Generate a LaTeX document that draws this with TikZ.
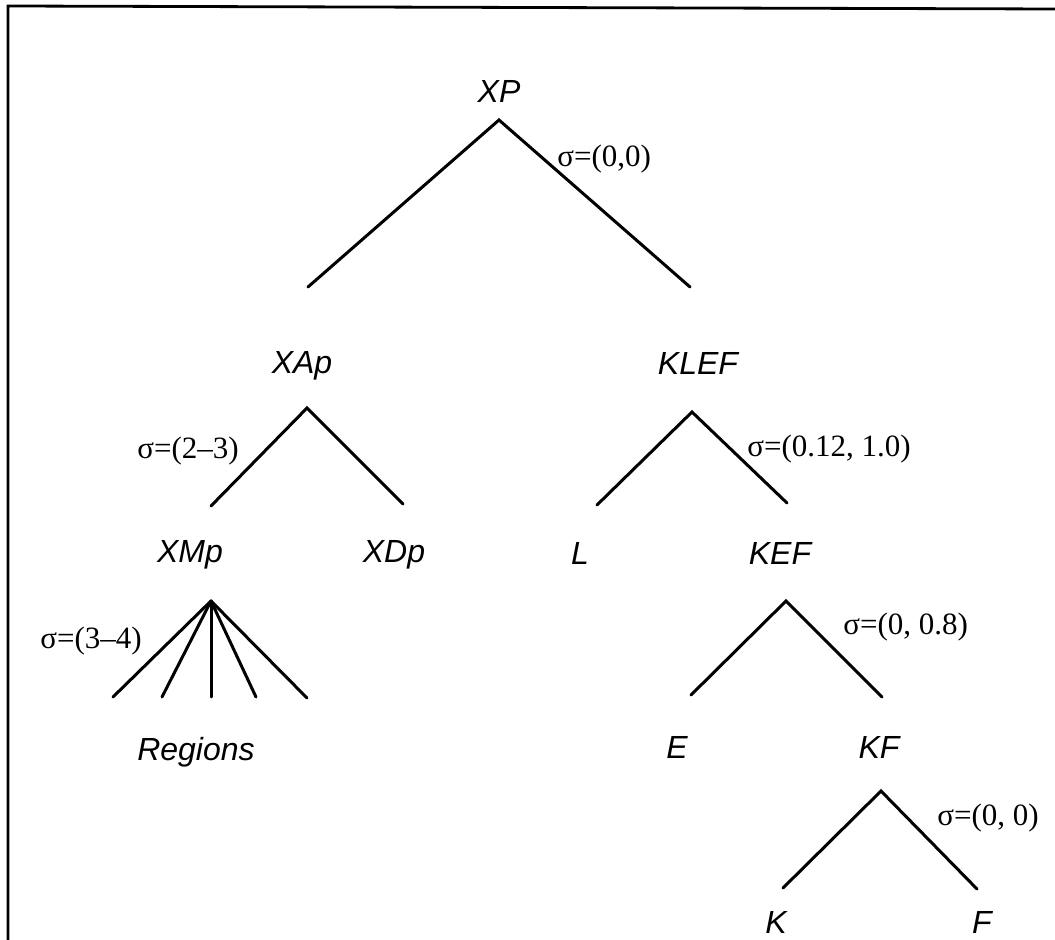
\documentclass[tikz,border=0pt]{standalone}
\usepackage{fontspec}
\setmainfont{Liberation Serif}
\newfontfamily\treefont{Liberation Sans}
\begin{document}
\begin{tikzpicture}[x=0.5pt,y=-0.5pt,
  cat/.style={font=\treefont\itshape\fontsize{16}{19}\selectfont, anchor=base, inner sep=0pt},
  sig/.style={font=\fontsize{15.5}{18}\selectfont, anchor=base west, inner sep=0pt},
  branch/.style={line width=1.5pt, line cap=round, line join=miter},
  frame/.style={line width=1.4pt}]
\useasboundingbox (0,0) rectangle (1055,940);

% partial frame (top and left edges)
\coordinate (fTL) at (8,6);
\coordinate (fTR) at (1055,9);
\coordinate (fBL) at (8,940);
\draw[frame] (fBL) -- (fTL) -- (fTR);

% category labels
\node[cat] (XP)   at (499,103) {XP};
\node[cat] (XAp)  at (302,374) {XAp};
\node[cat] (KLEF) at (698,375) {KLEF};
\node[cat] (XMp)  at (190,563) {XMp};
\node[cat] (XDp)  at (394,563) {XDp};
\node[cat] (L)    at (580,565) {L};
\node[cat] (KEF)  at (780,565) {KEF};
\node[cat] (Reg)  at (196,760) {Regions};
\node[cat] (E)    at (677,758) {E};
\node[cat] (KF)   at (879,758) {KF};
\node[cat] (K)    at (776,933) {K};
\node[cat] (F)    at (982,933) {F};

% branch points
\coordinate (XPa)   at (499,120);
\coordinate (XPl)   at (308,287);
\coordinate (XPr)   at (690,287);
\coordinate (XApa)  at (307,408);
\coordinate (XApl)  at (211,506);
\coordinate (XApr)  at (403,504);
\coordinate (KLEFa) at (692,412);
\coordinate (KLEFl) at (597,505);
\coordinate (KLEFr) at (787,503);
\coordinate (XMpa)  at (211,601);
\coordinate (XMp1)  at (113,697);
\coordinate (XMp2)  at (162,697);
\coordinate (XMp3)  at (211,697);
\coordinate (XMp4)  at (256,697);
\coordinate (XMp5)  at (307,698);
\coordinate (KEFa)  at (786,601);
\coordinate (KEFl)  at (691,695);
\coordinate (KEFr)  at (882,697);
\coordinate (KFa)   at (881,791);
\coordinate (KFl)   at (783,888);
\coordinate (KFr)   at (977,889);

% branches
\draw[branch] (XPl) -- (XPa) -- (XPr);
\draw[branch] (XApl) -- (XApa) -- (XApr);
\draw[branch] (KLEFl) -- (KLEFa) -- (KLEFr);
\draw[branch] (XMpa) -- (XMp1);
\draw[branch] (XMpa) -- (XMp2);
\draw[branch] (XMpa) -- (XMp3);
\draw[branch] (XMpa) -- (XMp4);
\draw[branch] (XMpa) -- (XMp5);
\draw[branch] (KEFl) -- (KEFa) -- (KEFr);
\draw[branch] (KFl) -- (KFa) -- (KFr);

% sigma annotations
\node[sig] (s1) at (557,167) {σ=(0,0)};
\node[sig] (s2) at (137,459) {σ=(2–3)};
\node[sig] (s3) at (747,457) {σ=(0.12, 1.0)};
\node[sig] (s4) at (40,648)  {σ=(3–4)};
\node[sig] (s5) at (843,635) {σ=(0, 0.8)};
\node[sig] (s6) at (937,825) {σ=(0, 0)};
\end{tikzpicture}
\end{document}
